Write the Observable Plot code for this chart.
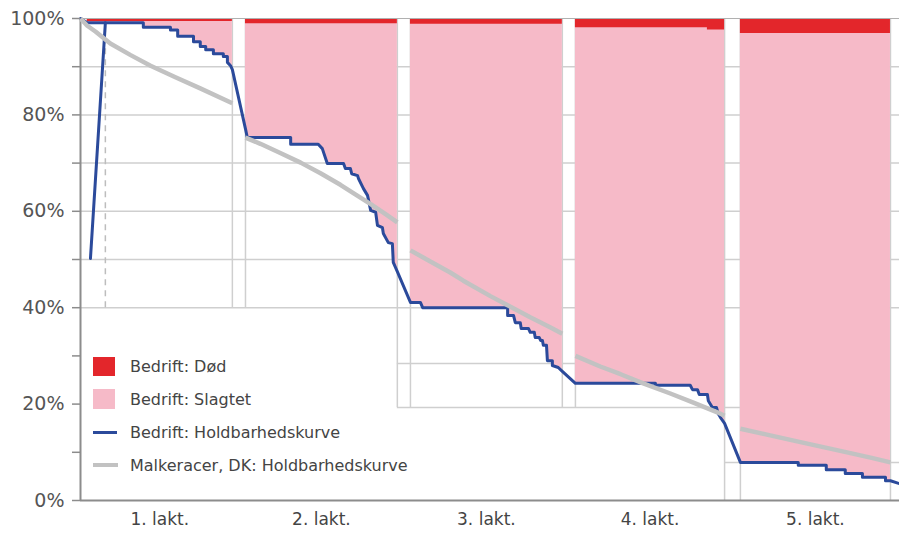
<!DOCTYPE html>
<html><head><meta charset="utf-8">
<script src="https://cdn.jsdelivr.net/npm/d3@7"></script>
<script src="https://cdn.jsdelivr.net/npm/@observablehq/plot@0.6"></script>
<style>
body{margin:0;background:#fff;font-family:"DejaVu Sans",sans-serif;}
#wrap{position:relative;width:899px;height:535px;overflow:hidden;}
.row{position:absolute;left:93px;height:24px;display:flex;align-items:center;font-size:16px;color:#444;white-space:nowrap;}
.sw{display:inline-block;}
</style></head><body>
<div id="wrap"><div id="chart"></div></div>
<script>
// ---- categories / ticks
const laktLabels = ["1. lakt.", "2. lakt.", "3. lakt.", "4. lakt.", "5. lakt."];
const laktStart = [15, 365, 730, 1095, 1460];   // day index
const laktEnd   = [336, 701, 1066, 1425, 1792];
const yTicks = [0, 10, 20, 30, 40, 50, 60, 70, 80, 90, 100];
const gridLevels = [40, 50, 60, 70, 80, 90];
const boundaryFloor = [40, 40, 19.3, 19.3, 19.3, 19.3, 0, 0, 0];
const frameSegs = [[28.4, 701, 1095], [19.3, 701, 1460], [7.9, 1425, 1812]];

// ---- Bedrift: Holdbarhedskurve  [day, %]
const startSpike = [[22, 50.2], [55, 99.1]];
const bedriftCurve = [
  [0,100],[15,99.1],[139,99.1],[139,98.2],[199,98.2],[199,97.6],[215,97.6],[215,96.3],
  [250,96.3],[250,95.2],[265,95.2],[265,94.2],[277,94.2],[277,93.5],[294,93.5],[294,92.7],
  [316,92.7],[316,92.1],[325,92.1],[325,90.9],[332,90.2],[336,89.4],
  [365,77.1],[369,75.3],[465,75.3],[465,73.9],[526,73.9],[535,73.0],[546,69.9],[582,69.9],
  [586,68.9],[597,68.9],[600,67.8],[613,67.4],[615,66.8],[626,64.7],[635,63.3],[642,60.2],
  [653,59.8],[657,57.1],[668,56.6],[670,55.4],[681,53.5],[690,53.3],[692,49.4],[701,47.5],
  [730,41.1],[752,41.1],[757,40.0],[945,40.0],[945,38.4],[958,38.4],[962,36.9],[973,36.9],
  [975,35.7],[991,35.7],[995,34.9],[1004,34.9],[1006,33.8],[1015,33.8],[1018,33.2],[1022,33.2],
  [1024,32.2],[1031,32.2],[1033,29.0],[1044,29.0],[1044,28.0],[1057,27.6],[1066,26.8],
  [1095,24.3],[1272,24.3],[1272,23.9],[1349,23.9],[1354,23.0],[1365,23.0],[1369,22.0],
  [1387,22.0],[1389,20.7],[1398,19.3],[1407,19.3],[1411,18.0],[1416,17.2],[1425,16.0],
  [1460,7.9],[1588,7.9],[1588,7.3],[1650,7.3],[1650,6.4],[1692,6.4],[1692,5.6],[1730,5.6],
  [1730,4.8],[1781,4.8],[1781,4.1],[1792,4.1],[1812,3.5]
];

// ---- Malkeracer, DK: Holdbarhedskurve, one array per lactation
const dk1 = [[0,100],[15,98.5],[33,97.3],[66,94.8],[111,92.4],[155,90.2],[210,87.8],[265,85.5],[336,82.4]];
const dk2 = [[365,75.3],[398,74.0],[442,72.1],[487,70.1],[531,67.9],[575,65.5],[608,63.5],[642,61.5],[675,59.4],[701,57.7]];
const dk3 = [[730,51.9],[774,49.6],[818,47.3],[847,45.6],[907,42.4],[945,40.5],[995,38.0],[1040,35.9],[1066,34.6]];
const dk4 = [[1095,30.0],[1150,27.8],[1195,26.2],[1245,24.3],[1305,22.2],[1356,20.3],[1409,18.3],[1425,17.6]];
const dk5 = [[1460,14.9],[1526,13.5],[1593,12.1],[1681,10.3],[1748,8.9],[1792,7.9]];

// ---- Bedrift: Død (share at top), [lakt, day, %]
const dead = [
  [1,15,0.6],[1,336,0.6],
  [2,365,1.1],[2,701,1.1],
  [3,730,1.2],[3,1066,1.2],
  [4,1095,1.9],[4,1387,1.9],[4,1387,2.4],[4,1425,2.4],
  [5,1460,3.1],[5,1792,3.1]
];

// ---- colours
const cRed = "#e3262b", cPink = "#f6bac8", cBlue = "#2b4a9b", cGrey = "#c2c2c2", cGrid = "#cfcfcf", cAxis = "#8c8c8c";

// derived tables
const pinkRows = [];
laktStart.forEach((s, k) => {
  bedriftCurve.filter(p => p[0] >= s && p[0] <= laktEnd[k]).forEach(p => pinkRows.push({lakt: k, day: p[0], pct: p[1], top: 100}));
});
const dkRows = [];
[dk1, dk2, dk3, dk4, dk5].forEach((arr, k) => arr.forEach(p => dkRows.push({lakt: k, day: p[0], pct: p[1]})));
const deadRows = dead.map(d => ({lakt: d[0], day: d[1], lo: 100 - d[2], hi: 100}));
const boundaries = [];
laktEnd.forEach((e, k) => { boundaries.push(e); if (k < laktStart.length - 1) boundaries.push(laktStart[k + 1]); });
const vSegs = boundaries.map((x, i) => ({x, y1: boundaryFloor[i], y2: 100}));
const hSegs = frameSegs.map(d => ({y: d[0], x1: d[1], x2: d[2]}));
const labelRows = laktLabels.map((t, k) => ({t, x: (laktStart[k] + laktEnd[k]) / 2}));

const chart = Plot.plot({
  width: 899, height: 535,
  marginLeft: 80, marginRight: 0, marginTop: 18, marginBottom: 35,
  style: {fontFamily: "DejaVu Sans, sans-serif", background: "#fff", overflow: "visible"},
  x: {domain: [0, 1812], axis: null},
  y: {domain: [0, 100], axis: null},
  marks: [
    Plot.ruleY(gridLevels, {stroke: cGrid, strokeWidth: 1.5}),
    Plot.ruleY(hSegs, {y: "y", x1: "x1", x2: "x2", stroke: cGrid, strokeWidth: 1.5}),
    Plot.ruleX(vSegs, {x: "x", y1: "y1", y2: "y2", stroke: cGrid, strokeWidth: 1.5}),
    Plot.ruleX([startSpike[1][0]], {y1: 40, y2: 100, stroke: "#bdbdbd", strokeWidth: 1.5, strokeDasharray: "6,5"}),
    Plot.areaY(pinkRows, {x: "day", y1: "pct", y2: "top", z: "lakt", fill: cPink}),
    Plot.areaY(deadRows, {x: "day", y1: "lo", y2: "hi", z: "lakt", fill: cRed}),
    Plot.ruleY([100], {stroke: "#b0b0b0", strokeWidth: 1.2}),
    Plot.ruleY([0], {stroke: cAxis, strokeWidth: 2}),
    Plot.ruleX([0], {y1: 0, y2: 100, stroke: cAxis, strokeWidth: 2}),
    Plot.line(startSpike, {x: d => d[0], y: d => d[1], stroke: cBlue, strokeWidth: 3}),
    Plot.line(bedriftCurve, {x: d => d[0], y: d => d[1], stroke: cBlue, strokeWidth: 3}),
    Plot.line(dkRows, {x: "day", y: "pct", z: "lakt", stroke: cGrey, strokeWidth: 4.5, strokeLinecap: "butt"}),
    Plot.axisY({ticks: yTicks, tickFormat: d => d % 20 === 0 ? d + "%" : "", tickSize: 8, tickPadding: 8,
      fontSize: 19, stroke: cAxis, strokeWidth: 1.5, fill: "#555", label: null}),
    Plot.text(labelRows, {x: "x", text: "t", frameAnchor: "bottom", dy: 24, fontSize: 17, fill: "#444"})
  ]
});
document.getElementById("chart").appendChild(chart);

// legend (inside plot area)
const legendItems = [
  {label: "Bedrift: Død", color: cRed, w: 22, h: 19},
  {label: "Bedrift: Slagtet", color: cPink, w: 22, h: 20},
  {label: "Bedrift: Holdbarhedskurve", color: cBlue, w: 24, h: 3},
  {label: "Malkeracer, DK: Holdbarhedskurve", color: cGrey, w: 25, h: 4}
];
const wrap = document.getElementById("wrap");
legendItems.forEach((it, i) => {
  const row = document.createElement("div");
  row.className = "row";
  row.style.top = (354 + i * 33) + "px";
  const sw = document.createElement("span");
  sw.className = "sw";
  sw.style.width = it.w + "px"; sw.style.height = it.h + "px"; sw.style.background = it.color;
  sw.style.marginRight = (37 - it.w) + "px";
  const tx = document.createElement("span");
  tx.textContent = it.label;
  row.appendChild(sw); row.appendChild(tx);
  wrap.appendChild(row);
});
</script></body></html>
